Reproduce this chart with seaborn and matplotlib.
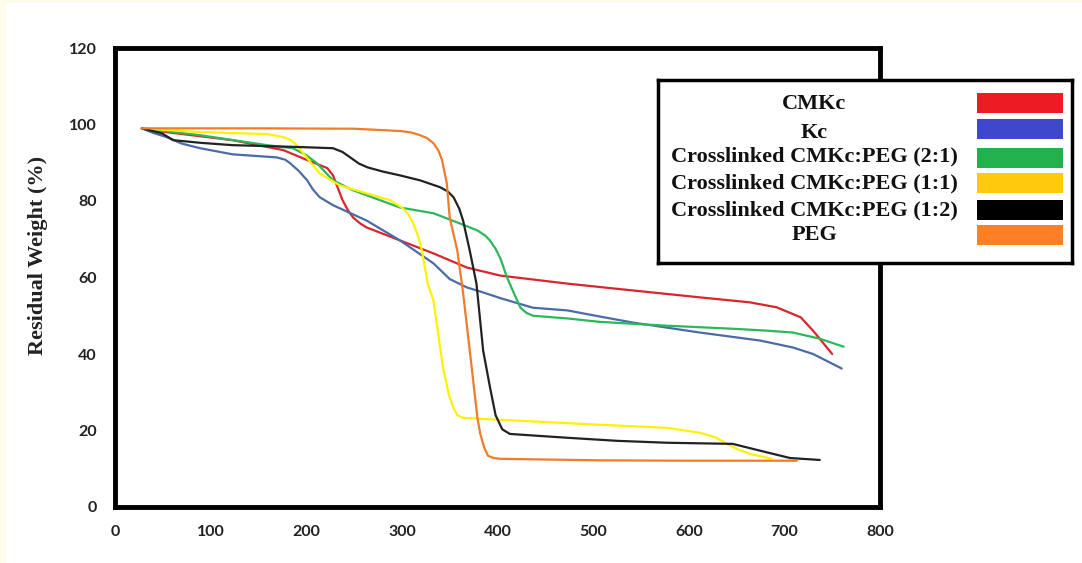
import pandas as pd
import numpy as np
import matplotlib.pyplot as plt
import seaborn as sns
from matplotlib.patches import Rectangle

# TGA curves (temperature in C, residual weight in %)
cmkc_t = [28, 54, 123, 176, 201, 215, 222, 228, 233, 238, 244, 249, 256, 263, 298, 333, 368, 403, 473, 542, 612, 664, 692, 717, 730, 750]
cmkc_w = [99, 98, 95.9, 93.3, 90.7, 89.3, 88.6, 86.7, 83.4, 80.2, 77.4, 75.7, 74.2, 73.1, 69.7, 66.3, 62.6, 60.5, 58.4, 56.6, 54.8, 53.5, 52.2, 49.6, 46.1, 40]

kc_t = [28, 40, 54, 70, 89, 123, 169, 178, 183, 192, 201, 207, 214, 228, 263, 298, 333, 350, 368, 385, 403, 437, 473, 507, 542, 612, 675, 709, 730, 760]
kc_w = [99, 97.8, 96.7, 95.0, 93.8, 92.2, 91.4, 90.8, 89.9, 87.9, 85.4, 83.0, 81, 78.9, 74.9, 69.7, 63.7, 59.6, 57.4, 56.1, 54.6, 52.1, 51.4, 49.8, 48.2, 45.6, 43.5, 41.7, 40, 36.2]

pg21_t = [28, 89, 159, 186, 200, 211, 228, 249, 298, 333, 361, 379, 387, 392, 398, 403, 410, 417, 424, 430, 437, 473, 507, 577, 646, 682, 709, 737, 762]
pg21_w = [99, 97.2, 94.6, 93.8, 92.0, 89.9, 85.4, 82.8, 78.3, 76.8, 74.1, 72.3, 71.0, 69.7, 67.5, 65, 60, 56.0, 52.1, 50.8, 50, 49.3, 48.4, 47.4, 46.6, 46.1, 45.6, 44, 41.9]

pg11_t = [28, 89, 159, 176, 184, 190, 201, 214, 235, 263, 288, 301, 307, 312, 317, 321, 327, 333, 343, 349, 354, 358, 364, 403, 507, 577, 612, 628, 640, 652, 664, 687]
pg11_w = [99, 98, 97.5, 96.7, 95.9, 94.6, 91.2, 87.2, 84.1, 82, 80.2, 78.1, 76.4, 74.1, 70.8, 67, 58.4, 54, 36.4, 29.5, 25.9, 24.0, 23.3, 22.8, 21.5, 20.7, 19.4, 18.2, 16.5, 15.0, 13.9, 12.6]

pg12_t = [28, 49, 61, 90, 123, 194, 228, 238, 246, 255, 264, 280, 298, 319, 340, 348, 354, 360, 364, 371, 378, 385, 392, 398, 405, 413, 473, 525, 577, 646, 675, 706, 737]
pg12_w = [99, 97.7, 95.9, 95.2, 94.6, 94.1, 93.8, 92.8, 91.4, 89.8, 88.8, 87.7, 86.7, 85.4, 83.6, 82.5, 81, 78.0, 74.9, 67, 58.4, 40.9, 31.5, 24.0, 20.3, 19.1, 18.1, 17.3, 16.8, 16.5, 14.7, 12.8, 12.3]

peg_t = [28, 150, 250, 298, 310, 319, 326, 333, 338, 342, 347, 350, 358, 364, 371, 379, 382, 386, 390, 396, 403, 507, 600, 713]
peg_w = [99, 99, 98.9, 98.3, 97.9, 97.2, 96.5, 95.1, 93.3, 90.7, 84.6, 75.7, 67, 56, 40.9, 23.3, 19.1, 15.6, 13.4, 12.8, 12.6, 12.2, 12.1, 12.1]

labels = ["CMKc", "Kc", "Crosslinked CMKc:PEG (2:1)", "Crosslinked CMKc:PEG (1:1)",
          "Crosslinked CMKc:PEG (1:2)", "PEG"]
series = [(cmkc_t, cmkc_w), (kc_t, kc_w), (pg21_t, pg21_w), (pg11_t, pg11_w),
          (pg12_t, pg12_w), (peg_t, peg_w)]
line_colors = ["#d8262c", "#4a6ca6", "#2cb75a", "#fff200", "#222222", "#f27b2a"]
patch_colors = ["#ed1c24", "#3f48cc", "#22b14c", "#ffc90e", "#000000", "#ff7f27"]

rows = []
for lab, (t, w) in zip(labels, series):
    for a, b in zip(t, w):
        rows.append({"Temperature": a, "Residual Weight": b, "Sample": lab})
df = pd.DataFrame(rows)

sns.set_style("white")
fig = plt.figure(figsize=(10.82, 5.63), dpi=100)
fig.patch.set_facecolor("#fffbea")
fig.patches.append(Rectangle((6 / 1082, 0), 1, 1 - 3 / 563, transform=fig.transFigure,
                             facecolor="white", edgecolor="none", zorder=-1))

ax = fig.add_axes([115 / 1082, (563 - 507) / 563, 765 / 1082, 459 / 563])
sns.lineplot(data=df, x="Temperature", y="Residual Weight", hue="Sample",
             palette=dict(zip(labels, line_colors)), estimator=None, sort=True,
             linewidth=1.6, legend=False, ax=ax)
for ln in ax.get_lines():
    ln.set_solid_joinstyle("round")

ax.set_xlim(0, 800)
ax.set_ylim(0, 120)
ax.set_xticks(np.arange(0, 801, 100))
ax.set_yticks(np.arange(0, 121, 20))
ax.tick_params(length=0, pad=13)
for lbl in ax.get_xticklabels() + ax.get_yticklabels():
    lbl.set_fontfamily("Lato")
    lbl.set_fontweight("bold")
    lbl.set_fontsize(11.5)
    lbl.set_color("#222222")
ax.set_xlabel("")
ax.set_ylabel("Residual Weight (%)", fontfamily="Liberation Serif", fontweight="bold",
              fontsize=16, color="#222222")
ax.yaxis.set_label_coords(-0.087, 0.548)
for s in ax.spines.values():
    s.set_linewidth(3.5)
    s.set_color("black")

# legend box drawn as its own small axes, in pixel units
lax = fig.add_axes([658 / 1082, (563 - 263) / 563, 414 / 1082, 183 / 563])
lax.set_xlim(658, 1072)
lax.set_ylim(263, 80)
lax.set_xticks([])
lax.set_yticks([])
for s in lax.spines.values():
    s.set_linewidth(2.5)
    s.set_color("black")
text_y = [104, 133, 156, 183, 210, 235]
patch_y = [103, 129, 158, 183, 210, 235]
for lab, col, ty, py in zip(labels, patch_colors, text_y, patch_y):
    lax.text(814, ty, lab, ha="center", va="center", fontfamily="Liberation Serif",
             fontweight="bold", fontsize=16, color="#111111")
    lax.add_patch(Rectangle((977, py - 10), 86, 20, facecolor=col, edgecolor="none"))

fig.savefig("out.png", dpi=100)
